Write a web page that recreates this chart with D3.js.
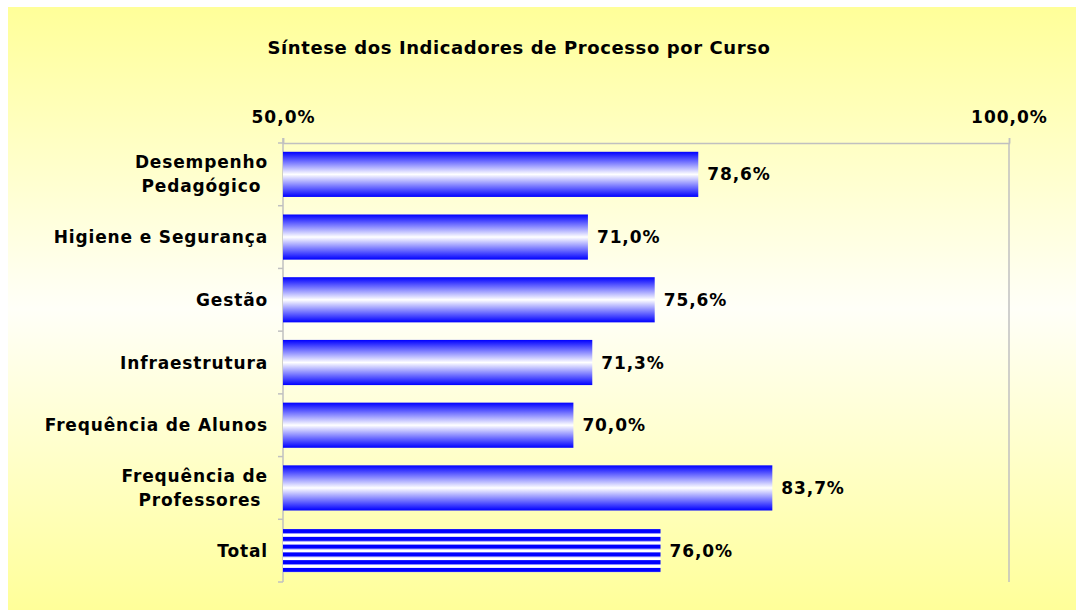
<!DOCTYPE html>
<html>
<head>
<meta charset="utf-8">
<script src="https://cdn.jsdelivr.net/npm/d3@7"></script>
<style>
  body { margin: 0; background: #fff; }
  text { font-family: Verdana, "DejaVu Sans", sans-serif; font-weight: bold; fill: #000; }
</style>
</head>
<body>
<svg width="1076" height="610"></svg>
<script>
// data
const categories = [
  ["Desempenho", "Pedagógico "],
  ["Higiene e Segurança"],
  ["Gestão"],
  ["Infraestrutura"],
  ["Frequência de Alunos"],
  ["Frequência de", "Professores "],
  ["Total"]
];
const values = [78.6, 71.0, 75.6, 71.3, 70.0, 83.7, 76.0];
const axisTicks = [50, 100];

const chartTitle = "Síntese dos Indicadores de Processo por Curso";

let plotLeft = 283,
  plotRight = 1009,
  plotTop = 143,
  plotBottom = 582;

let svg = d3.select("svg");
let defs = svg.append("defs");
const fmt = (v) => v.toFixed(1).replace(".", ",") + "%";

// background gradient (yellow - white - yellow)
const bg = defs.append("linearGradient").attr("id", "bg")
  .attr("x1", 0).attr("y1", 0).attr("x2", 0).attr("y2", 1);
bg.append("stop").attr("offset", "0%").attr("stop-color", "#ffff99");
bg.append("stop").attr("offset", "50%").attr("stop-color", "#fffff8");
bg.append("stop").attr("offset", "100%").attr("stop-color", "#ffff99");

// bar gradient (blue edges, white centre)
const barGrad = defs.append("linearGradient").attr("id", "barGrad")
  .attr("x1", 0).attr("y1", 0).attr("x2", 0).attr("y2", 1);
barGrad.append("stop").attr("offset", "0%").attr("stop-color", "#0000ff");
barGrad.append("stop").attr("offset", "50%").attr("stop-color", "#ffffff");
barGrad.append("stop").attr("offset", "100%").attr("stop-color", "#0000ff");

svg.append("rect")
  .attr("x", 8).attr("y", 7)
  .attr("width", 1068).attr("height", 603)
  .attr("fill", "url(#bg)");

svg.append("text")
  .attr("x", 519).attr("y", 54)
  .attr("text-anchor", "middle")
  .attr("font-size", "18px")
  .attr("letter-spacing", "0.6px")
  .text(chartTitle);

const x = d3.scaleLinear().domain([50, 100]).range([plotLeft, plotRight]);
const y = d3.scaleBand()
  .domain(d3.range(categories.length))
  .range([plotTop, plotBottom])
  .paddingInner(0.28)
  .paddingOuter(0.14);

// gridline at 100%
svg.append("line")
  .attr("x1", x(100)).attr("x2", x(100))
  .attr("y1", plotTop).attr("y2", plotBottom)
  .attr("stroke", "#c0c0c0").attr("stroke-width", 1.5);

// top axis
const xAxis = svg.append("g")
  .attr("transform", `translate(0,${plotTop})`)
  .call(d3.axisTop(x).tickValues(axisTicks).tickSize(5).tickPadding(15).tickFormat(fmt));
xAxis.select(".domain").attr("stroke", "#c0c0c0").attr("stroke-width", 1.5);
xAxis.selectAll(".tick line").attr("stroke", "#c0c0c0").attr("stroke-width", 1.5);
xAxis.selectAll(".tick text")
  .attr("font-size", "17px")
  .attr("letter-spacing", "1px")
  .attr("font-family", null);

// left axis with ticks between categories
svg.append("line")
  .attr("x1", plotLeft).attr("x2", plotLeft)
  .attr("y1", plotTop - 5).attr("y2", plotBottom)
  .attr("stroke", "#c0c0c0").attr("stroke-width", 1.5);
const step = y.step();
d3.range(categories.length + 1).forEach((i) => {
  const ty = plotTop + i * step;
  svg.append("line")
    .attr("x1", plotLeft - 5).attr("x2", plotLeft)
    .attr("y1", ty).attr("y2", ty)
    .attr("stroke", "#c0c0c0").attr("stroke-width", 1.5);
});

// stripe pattern for the Total bar: 6 blue stripes, first at top, last at bottom
const last = categories.length - 1;
const totalH = y.bandwidth() - 2;
const blueH = totalH * 0.1;
const stripeH = (totalH - blueH) / 5;
const stripes = defs.append("pattern").attr("id", "stripes")
  .attr("patternUnits", "userSpaceOnUse")
  .attr("x", 0).attr("y", y(last) + 1)
  .attr("width", 10).attr("height", stripeH);
stripes.append("rect").attr("width", 10).attr("height", stripeH).attr("fill", "#ffffff");
stripes.append("rect").attr("width", 10).attr("height", blueH).attr("fill", "#0000ff");

svg.selectAll("rect.bar")
  .data(values)
  .enter()
  .append("rect")
  .attr("class", "bar")
  .attr("x", x(50))
  .attr("y", (d, i) => (i === last ? y(i) + 1 : y(i)))
  .attr("width", (d) => x(d) - x(50))
  .attr("height", (d, i) => (i === last ? totalH : y.bandwidth()))
  .attr("fill", (d, i) => (i === last ? "url(#stripes)" : "url(#barGrad)"));

// value labels
svg.selectAll("text.value")
  .data(values)
  .enter()
  .append("text")
  .attr("class", "value")
  .attr("x", (d) => x(d) + 9)
  .attr("y", (d, i) => y(i) + y.bandwidth() / 2)
  .attr("dy", "0.36em")
  .attr("font-size", "17px")
  .attr("letter-spacing", "0.9px")
  .text(fmt);

// category labels
categories.forEach((lines, i) => {
  const cy = y(i) + y.bandwidth() / 2;
  const lh = 24;
  const t = svg.append("text")
    .attr("text-anchor", "end")
    .attr("font-size", "17px")
    .attr("letter-spacing", "0.85px")
    .attr("xml:space", "preserve")
    .style("white-space", "pre");
  lines.forEach((line, j) => {
    t.append("tspan")
      .attr("x", 268)
      .attr("y", cy + (j - (lines.length - 1) / 2) * lh)
      .attr("dy", "0.36em")
      .text(line);
  });
});
</script>
</body>
</html>
